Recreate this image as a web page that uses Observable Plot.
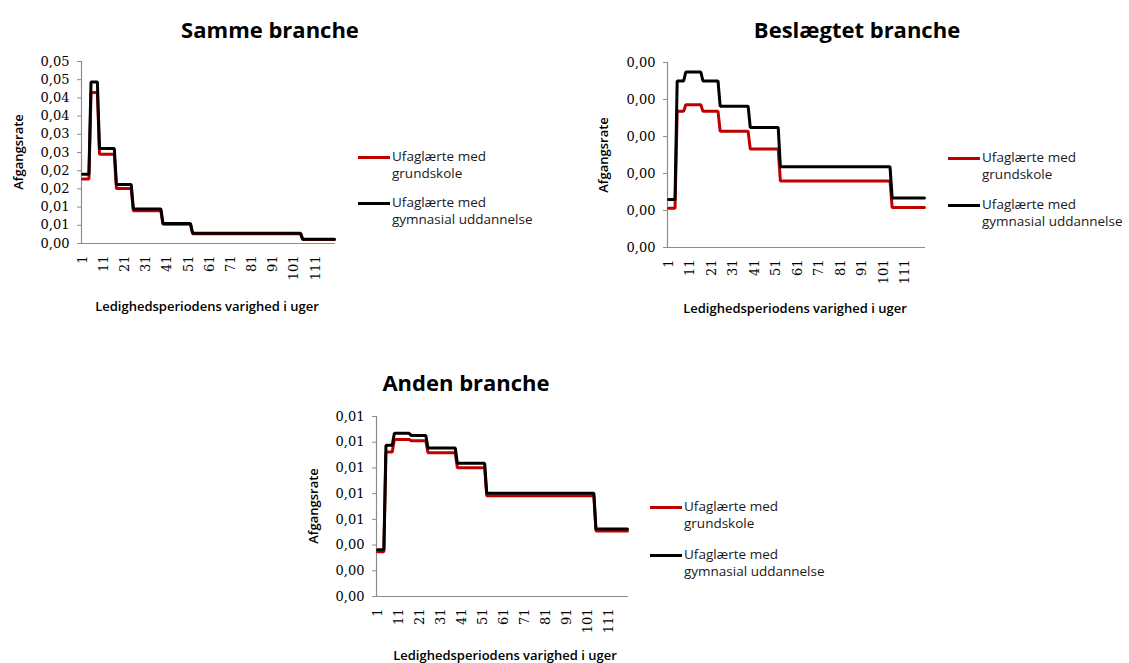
<!DOCTYPE html>
<html><head><meta charset="utf-8">
<script src="https://cdn.jsdelivr.net/npm/d3@7"></script>
<script src="https://cdn.jsdelivr.net/npm/@observablehq/plot@0.6"></script>
<style>
body{margin:0;background:#fff;}
#root{position:relative;width:1129px;height:663px;overflow:hidden;background:#fff;font-family:"Open Sans",sans-serif;color:#000;}
.title{position:absolute;font-weight:700;font-size:22px;line-height:26px;transform:translate(-50%,-50%);white-space:nowrap;}
.ylab{position:absolute;font-weight:600;font-size:13px;line-height:15px;transform:translate(-50%,-50%) rotate(-90deg);white-space:nowrap;}
.xlab{position:absolute;font-weight:600;font-size:13px;line-height:15px;transform:translate(-50%,-50%);white-space:nowrap;}
.leg{position:absolute;font-size:13.5px;line-height:17px;color:#1a1a1a;white-space:nowrap;}
.sw{position:absolute;height:3px;width:32px;}
.plot{position:absolute;}
</style></head><body><div id="root"></div>
<script>
// Weeks of the unemployment spell, grouped into the constant-rate intervals seen in the chart
const intervalStart = [1, 5, 9, 17, 25, 39, 53, 105];
const intervalEnd   = [4, 8, 16, 24, 38, 52, 104, 120];

// Samme branche
const sammeGrundskole = [0.0177, 0.0415, 0.0245, 0.0151, 0.0090, 0.0053, 0.0027, 0.0011];
const sammeGymnasial  = [0.0190, 0.0444, 0.0261, 0.0162, 0.0095, 0.0055, 0.0028, 0.0012];
// Beslægtet branche
const beslGrundskole = [0.00053, 0.00184, 0.00193, 0.00184, 0.00157, 0.00133, 0.00090, 0.00054];
const beslGymnasial  = [0.00065, 0.00225, 0.00237, 0.00225, 0.00191, 0.00162, 0.00109, 0.00067];
// Anden branche
const andenGrundskole = [0.00349, 0.01124, 0.01222, 0.01212, 0.01118, 0.01002, 0.00783, 0.00510];
const andenGymnasial  = [0.00364, 0.01176, 0.01269, 0.01253, 0.01155, 0.01036, 0.00804, 0.00525];

const seriesColors = ["#C00000", "#000000"];

const xTicks = [1, 11, 21, 31, 41, 51, 61, 71, 81, 91, 101, 111];
const xTickLabels = ["1", "11", "21", "31", "41", "51", "61", "71", "81", "91", "101", "111"];

const yTicks1 = [0, 0.005, 0.01, 0.015, 0.02, 0.025, 0.03, 0.035, 0.04, 0.045, 0.05];
const yTickLabels1 = ["0,00","0,01","0,01","0,02","0,02","0,03","0,03","0,04","0,04","0,05","0,05"];
const yTicks2 = [0, 0.0005, 0.001, 0.0015, 0.002, 0.0025];
const yTickLabels2 = ["0,00","0,00","0,00","0,00","0,00","0,00"];
const yTicks3 = [0, 0.002, 0.004, 0.006, 0.008, 0.01, 0.012, 0.014];
const yTickLabels3 = ["0,00","0,00","0,00","0,01","0,01","0,01","0,01","0,01"];

const titles = ["Samme branche", "Beslægtet branche", "Anden branche"];
const yTitle = "Afgangsrate";
const xTitle = "Ledighedsperiodens varighed i uger";
const legendLines = [["Ufaglærte med", "grundskole"], ["Ufaglærte med", "gymnasial uddannelse"]];

function weekly(values) {
  const rows = [];
  values.forEach((v, i) => {
    for (let w = intervalStart[i]; w <= intervalEnd[i]; w++) rows.push({week: w, rate: v});
  });
  return rows;
}

const root = document.getElementById("root");
function addDiv(cls, text, x, y, extra) {
  const d = document.createElement("div");
  d.className = cls;
  d.textContent = text;
  d.style.left = x + "px";
  d.style.top = y + "px";
  if (extra) Object.assign(d.style, extra);
  root.appendChild(d);
  return d;
}

function panel(cfg) {
  const labelMap = new Map(cfg.yTicks.map((t, i) => [t, cfg.yLabels[i]]));
  const xMap = new Map(xTicks.map((t, i) => [t, xTickLabels[i]]));
  const lastWeek = intervalEnd[intervalEnd.length - 1];
  const chart = Plot.plot({
    width: cfg.W, height: cfg.H,
    marginLeft: cfg.ml, marginRight: cfg.mr, marginTop: cfg.mt, marginBottom: cfg.mb,
    style: {fontFamily: "DejaVu Serif", fontSize: "13px", color: "#000", background: "transparent"},
    x: {domain: [0.5, lastWeek + 0.5], axis: null},
    y: {domain: [cfg.yTicks[0], cfg.yTicks[cfg.yTicks.length - 1]], axis: null},
    marks: [
      Plot.ruleX([0.5], {stroke: "#8c8c8c", strokeWidth: 1.2}),
      Plot.ruleY([0], {stroke: "#8c8c8c", strokeWidth: 1.2}),
      Plot.axisY({ticks: cfg.yTicks, tickFormat: d => labelMap.get(d), tickSize: 4, tickPadding: 8, label: null,
        stroke: "#8c8c8c", fill: "#000", fontFamily: "DejaVu Serif", fontSize: 13}),
      Plot.axisX({ticks: xTicks, tickFormat: d => xMap.get(d), tickSize: 0, tickRotate: -90, tickPadding: 12, label: null,
        fill: "#000", fontFamily: "DejaVu Serif", fontSize: 13}),
      Plot.line(weekly(cfg.grund), {x: "week", y: "rate", stroke: seriesColors[0], strokeWidth: 3, strokeLinejoin: "miter"}),
      Plot.line(weekly(cfg.gym), {x: "week", y: "rate", stroke: seriesColors[1], strokeWidth: 3, strokeLinejoin: "miter"})
    ]
  });
  chart.classList.add("plot");
  chart.style.left = cfg.L + "px";
  chart.style.top = cfg.T + "px";
  root.appendChild(chart);

  addDiv("title", cfg.title, cfg.titleX, cfg.titleY);
  addDiv("ylab", yTitle, cfg.ylabX, cfg.ylabY);
  addDiv("xlab", xTitle, cfg.xlabX, cfg.xlabY);
  const lg = cfg.legend;
  [lg.y1, lg.y2].forEach((yy, k) => {
    addDiv("sw", "", lg.x, yy - 1.5, {background: seriesColors[k]});
    addDiv("leg", legendLines[k][0], lg.x + 34, yy - 9);
    addDiv("leg", legendLines[k][1], lg.x + 34, yy + 8);
  });
}

panel({title: titles[0], grund: sammeGrundskole, gym: sammeGymnasial, yTicks: yTicks1, yLabels: yTickLabels1,
  L: 0, T: 40, W: 345, H: 282, ml: 81, mr: 10, mt: 21, mb: 79,
  titleX: 270, titleY: 29, ylabX: 18, ylabY: 152, xlabX: 207, xlabY: 306,
  legend: {x: 358, y1: 157, y2: 203}});
panel({title: titles[1], grund: beslGrundskole, gym: beslGymnasial, yTicks: yTicks2, yLabels: yTickLabels2,
  L: 590, T: 40, W: 345, H: 282, ml: 77, mr: 10, mt: 22, mb: 75,
  titleX: 857, titleY: 29, ylabX: 603, ylabY: 155, xlabX: 795, xlabY: 308,
  legend: {x: 948, y1: 158, y2: 205}});
panel({title: titles[2], grund: andenGrundskole, gym: andenGymnasial, yTicks: yTicks3, yLabels: yTickLabels3,
  L: 290, T: 395, W: 345, H: 250, ml: 86, mr: 7, mt: 21, mb: 49,
  titleX: 466, titleY: 382, ylabX: 313, ylabY: 506, xlabX: 505, xlabY: 655,
  legend: {x: 650, y1: 507, y2: 555}});
</script></body></html>
